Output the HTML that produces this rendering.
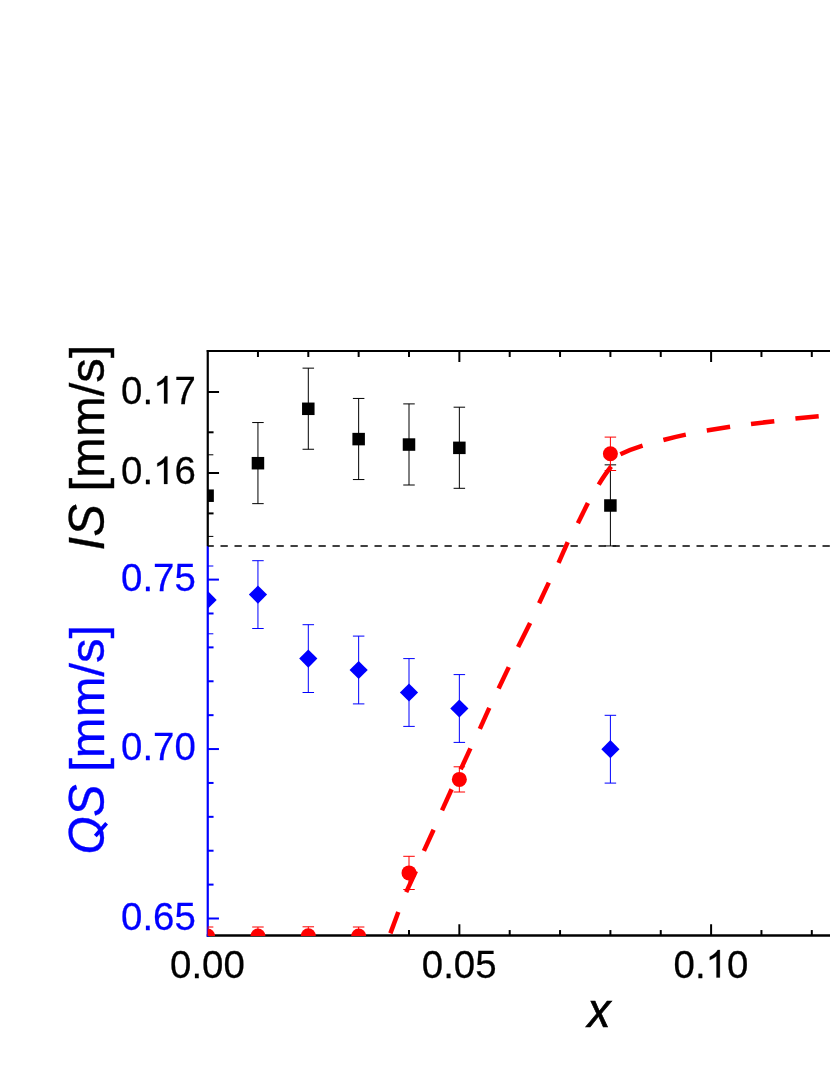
<!DOCTYPE html>
<html><head><meta charset="utf-8"><title>chart</title>
<style>html,body{margin:0;padding:0;background:#fff;}body{width:830px;height:1075px;overflow:hidden;}svg{display:block;}text{font-family:"Liberation Sans",sans-serif;}</style></head><body>
<svg width="830" height="1075" viewBox="0 0 830 1075" style="will-change:transform">
<rect x="0" y="0" width="830" height="1075" fill="#fff"/>
<defs><clipPath id="cp"><rect x="207.75" y="351.0" width="627.25" height="585.0"/></clipPath></defs>
<g>
<line x1="257.95" y1="351.0" x2="257.95" y2="357.0" stroke="#000000" stroke-width="2"/>
<line x1="257.95" y1="935.55" x2="257.95" y2="930.05" stroke="#000000" stroke-width="2"/>
<line x1="308.30" y1="351.0" x2="308.30" y2="357.0" stroke="#000000" stroke-width="2"/>
<line x1="308.30" y1="935.55" x2="308.30" y2="930.05" stroke="#000000" stroke-width="2"/>
<line x1="358.65" y1="351.0" x2="358.65" y2="357.0" stroke="#000000" stroke-width="2"/>
<line x1="358.65" y1="935.55" x2="358.65" y2="930.05" stroke="#000000" stroke-width="2"/>
<line x1="409.00" y1="351.0" x2="409.00" y2="357.0" stroke="#000000" stroke-width="2"/>
<line x1="409.00" y1="935.55" x2="409.00" y2="930.05" stroke="#000000" stroke-width="2"/>
<line x1="459.35" y1="351.0" x2="459.35" y2="362.0" stroke="#000000" stroke-width="2"/>
<line x1="459.35" y1="935.55" x2="459.35" y2="924.25" stroke="#000000" stroke-width="2"/>
<line x1="509.70" y1="351.0" x2="509.70" y2="357.0" stroke="#000000" stroke-width="2"/>
<line x1="509.70" y1="935.55" x2="509.70" y2="930.05" stroke="#000000" stroke-width="2"/>
<line x1="560.05" y1="351.0" x2="560.05" y2="357.0" stroke="#000000" stroke-width="2"/>
<line x1="560.05" y1="935.55" x2="560.05" y2="930.05" stroke="#000000" stroke-width="2"/>
<line x1="610.40" y1="351.0" x2="610.40" y2="357.0" stroke="#000000" stroke-width="2"/>
<line x1="610.40" y1="935.55" x2="610.40" y2="930.05" stroke="#000000" stroke-width="2"/>
<line x1="660.75" y1="351.0" x2="660.75" y2="357.0" stroke="#000000" stroke-width="2"/>
<line x1="660.75" y1="935.55" x2="660.75" y2="930.05" stroke="#000000" stroke-width="2"/>
<line x1="711.10" y1="351.0" x2="711.10" y2="362.0" stroke="#000000" stroke-width="2"/>
<line x1="711.10" y1="935.55" x2="711.10" y2="924.25" stroke="#000000" stroke-width="2"/>
<line x1="761.45" y1="351.0" x2="761.45" y2="357.0" stroke="#000000" stroke-width="2"/>
<line x1="761.45" y1="935.55" x2="761.45" y2="930.05" stroke="#000000" stroke-width="2"/>
<line x1="811.80" y1="351.0" x2="811.80" y2="357.0" stroke="#000000" stroke-width="2"/>
<line x1="811.80" y1="935.55" x2="811.80" y2="930.05" stroke="#000000" stroke-width="2"/>
<line x1="207.75" y1="392.0" x2="219.05" y2="392.0" stroke="#000000" stroke-width="2"/>
<line x1="207.75" y1="432.3" x2="213.55" y2="432.3" stroke="#000000" stroke-width="2"/>
<line x1="207.75" y1="473.0" x2="219.05" y2="473.0" stroke="#000000" stroke-width="2"/>
<line x1="207.75" y1="513.4" x2="213.55" y2="513.4" stroke="#000000" stroke-width="2"/>
<line x1="207.75" y1="579.60" x2="218.95" y2="579.60" stroke="#0000ff" stroke-width="2"/>
<line x1="207.75" y1="613.49" x2="213.55" y2="613.49" stroke="#0000ff" stroke-width="2"/>
<line x1="207.75" y1="647.38" x2="213.55" y2="647.38" stroke="#0000ff" stroke-width="2"/>
<line x1="207.75" y1="681.27" x2="213.55" y2="681.27" stroke="#0000ff" stroke-width="2"/>
<line x1="207.75" y1="715.16" x2="213.55" y2="715.16" stroke="#0000ff" stroke-width="2"/>
<line x1="207.75" y1="749.05" x2="218.95" y2="749.05" stroke="#0000ff" stroke-width="2"/>
<line x1="207.75" y1="782.94" x2="213.55" y2="782.94" stroke="#0000ff" stroke-width="2"/>
<line x1="207.75" y1="816.83" x2="213.55" y2="816.83" stroke="#0000ff" stroke-width="2"/>
<line x1="207.75" y1="850.72" x2="213.55" y2="850.72" stroke="#0000ff" stroke-width="2"/>
<line x1="207.75" y1="884.61" x2="213.55" y2="884.61" stroke="#0000ff" stroke-width="2"/>
<line x1="207.75" y1="918.50" x2="218.95" y2="918.50" stroke="#0000ff" stroke-width="2"/>
</g>
<g>
<line x1="206.75" y1="351.0" x2="830" y2="351.0" stroke="#000000" stroke-width="2"/>
<line x1="206.75" y1="935.55" x2="830" y2="935.55" stroke="#000000" stroke-width="2.6"/>
<line x1="207.75" y1="350.0" x2="207.75" y2="546.0" stroke="#000000" stroke-width="2.2"/>
<line x1="207.75" y1="546.0" x2="207.75" y2="936.8499999999999" stroke="#0000ff" stroke-width="2.2"/>
</g>
<g clip-path="url(#cp)">
<line x1="206.5" y1="545.9" x2="830" y2="545.9" stroke="#000" stroke-width="1.5" stroke-dasharray="7.3 6.7"/>
<path d="M207.60 454.80V536.40M201.85 454.80H213.35M201.85 536.40H213.35" stroke="#000000" stroke-width="1.0" fill="none"/>
<path d="M257.95 422.55V503.65M252.20 422.55H263.70M252.20 503.65H263.70" stroke="#000000" stroke-width="1.0" fill="none"/>
<path d="M308.30 368.15V449.25M302.55 368.15H314.05M302.55 449.25H314.05" stroke="#000000" stroke-width="1.0" fill="none"/>
<path d="M358.65 398.45V479.55M352.90 398.45H364.40M352.90 479.55H364.40" stroke="#000000" stroke-width="1.0" fill="none"/>
<path d="M409.00 403.90V485.00M403.25 403.90H414.75M403.25 485.00H414.75" stroke="#000000" stroke-width="1.0" fill="none"/>
<path d="M459.35 407.20V488.30M453.60 407.20H465.10M453.60 488.30H465.10" stroke="#000000" stroke-width="1.0" fill="none"/>
<path d="M610.40 464.85V545.95M604.65 464.85H616.15M604.65 545.95H616.15" stroke="#000000" stroke-width="1.0" fill="none"/>
<rect x="201.35" y="489.45" width="12.5" height="12.5" fill="#000000"/>
<rect x="251.70" y="456.95" width="12.5" height="12.5" fill="#000000"/>
<rect x="302.05" y="402.55" width="12.5" height="12.5" fill="#000000"/>
<rect x="352.40" y="432.85" width="12.5" height="12.5" fill="#000000"/>
<rect x="402.75" y="438.30" width="12.5" height="12.5" fill="#000000"/>
<rect x="453.10" y="441.60" width="12.5" height="12.5" fill="#000000"/>
<rect x="604.15" y="499.25" width="12.5" height="12.5" fill="#000000"/>
<path d="M207.60 566.00V633.80M201.85 566.00H213.35M201.85 633.80H213.35" stroke="#0000ff" stroke-width="1.0" fill="none"/>
<path d="M257.95 560.70V628.50M252.20 560.70H263.70M252.20 628.50H263.70" stroke="#0000ff" stroke-width="1.0" fill="none"/>
<path d="M308.30 624.70V692.50M302.55 624.70H314.05M302.55 692.50H314.05" stroke="#0000ff" stroke-width="1.0" fill="none"/>
<path d="M358.65 636.10V703.90M352.90 636.10H364.40M352.90 703.90H364.40" stroke="#0000ff" stroke-width="1.0" fill="none"/>
<path d="M409.00 658.60V726.40M403.25 658.60H414.75M403.25 726.40H414.75" stroke="#0000ff" stroke-width="1.0" fill="none"/>
<path d="M459.35 674.60V742.40M453.60 674.60H465.10M453.60 742.40H465.10" stroke="#0000ff" stroke-width="1.0" fill="none"/>
<path d="M610.40 715.30V783.10M604.65 715.30H616.15M604.65 783.10H616.15" stroke="#0000ff" stroke-width="1.0" fill="none"/>
<path d="M198.50 599.90L207.60 590.80L216.70 599.90L207.60 609.00Z" fill="#0000ff"/>
<path d="M248.85 594.60L257.95 585.50L267.05 594.60L257.95 603.70Z" fill="#0000ff"/>
<path d="M299.20 658.60L308.30 649.50L317.40 658.60L308.30 667.70Z" fill="#0000ff"/>
<path d="M349.55 670.00L358.65 660.90L367.75 670.00L358.65 679.10Z" fill="#0000ff"/>
<path d="M399.90 692.50L409.00 683.40L418.10 692.50L409.00 701.60Z" fill="#0000ff"/>
<path d="M450.25 708.50L459.35 699.40L468.45 708.50L459.35 717.60Z" fill="#0000ff"/>
<path d="M601.30 749.20L610.40 740.10L619.50 749.20L610.40 758.30Z" fill="#0000ff"/>
<line x1="390.40" y1="933.40" x2="398.3" y2="912.0" stroke="#ff0000" stroke-width="4.5"/>
<line x1="406.22" y1="892.12" x2="415.9" y2="871.1" stroke="#ff0000" stroke-width="4.5"/>
<line x1="423.93" y1="850.82" x2="433.6" y2="829.7" stroke="#ff0000" stroke-width="4.5"/>
<line x1="442.03" y1="810.32" x2="451.6" y2="789.3" stroke="#ff0000" stroke-width="4.5"/>
<line x1="460.72" y1="769.42" x2="470.4" y2="748.4" stroke="#ff0000" stroke-width="4.5"/>
<line x1="479.83" y1="728.82" x2="489.3" y2="707.8" stroke="#ff0000" stroke-width="4.5"/>
<line x1="498.61" y1="688.51" x2="508.8" y2="667.1" stroke="#ff0000" stroke-width="4.5"/>
<line x1="518.10" y1="647.10" x2="530.1" y2="623.1" stroke="#ff0000" stroke-width="4.5"/>
<line x1="539.12" y1="603.32" x2="548.8" y2="582.6" stroke="#ff0000" stroke-width="4.5"/>
<line x1="558.54" y1="562.82" x2="567.7" y2="542.1" stroke="#ff0000" stroke-width="4.5"/>
<line x1="577.90" y1="523.21" x2="587.9" y2="503.0" stroke="#ff0000" stroke-width="4.5"/>
<path d="M598.7 484.6Q605.3 473.7 611.2 466.5" stroke="#ff0000" stroke-width="4.5" fill="none"/>
<path d="M620.4 454.3Q631 449.3 642.6 445.7" stroke="#ff0000" stroke-width="4.5" fill="none"/>
<path d="M663.4 440.0Q674.5 437.0 685.8 434.6" stroke="#ff0000" stroke-width="4.5" fill="none"/>
<path d="M706.8 430.5L730.1 426.8" stroke="#ff0000" stroke-width="4.5" fill="none"/>
<path d="M751.0 423.9L774.3 421.2" stroke="#ff0000" stroke-width="4.5" fill="none"/>
<path d="M795.4 418.4L818.7 416.2" stroke="#ff0000" stroke-width="4.5" fill="none"/>
<path d="M207.60 927.00V945.00M201.85 927.00H213.35M201.85 945.00H213.35" stroke="#ff0000" stroke-width="1.0" fill="none"/>
<path d="M257.95 927.00V945.00M252.20 927.00H263.70M252.20 945.00H263.70" stroke="#ff0000" stroke-width="1.0" fill="none"/>
<path d="M308.30 926.80V944.80M302.55 926.80H314.05M302.55 944.80H314.05" stroke="#ff0000" stroke-width="1.0" fill="none"/>
<path d="M358.65 927.00V945.00M352.90 927.00H364.40M352.90 945.00H364.40" stroke="#ff0000" stroke-width="1.0" fill="none"/>
<path d="M409.00 856.30V889.50M403.25 856.30H414.75M403.25 889.50H414.75" stroke="#ff0000" stroke-width="1.0" fill="none"/>
<path d="M459.35 766.80V792.00M453.60 766.80H465.10M453.60 792.00H465.10" stroke="#ff0000" stroke-width="1.0" fill="none"/>
<path d="M610.40 437.10V470.50M604.65 437.10H616.15M604.65 470.50H616.15" stroke="#ff0000" stroke-width="1.0" fill="none"/>
<circle cx="207.60" cy="936.00" r="7.5" fill="#ff0000"/>
<circle cx="257.95" cy="936.00" r="7.5" fill="#ff0000"/>
<circle cx="308.30" cy="935.80" r="7.5" fill="#ff0000"/>
<circle cx="358.65" cy="936.00" r="7.5" fill="#ff0000"/>
<circle cx="409.00" cy="872.90" r="7.5" fill="#ff0000"/>
<circle cx="459.35" cy="779.40" r="7.5" fill="#ff0000"/>
<circle cx="610.40" cy="453.80" r="7.5" fill="#ff0000"/>
</g>
<g>
<text transform="translate(170.04 977.5) scale(1 1.03)" font-size="38.4" fill="#000000" stroke="#000000" stroke-width="0.25">0.00</text>
<text transform="translate(421.79 977.5) scale(1 1.03)" font-size="38.4" fill="#000000" stroke="#000000" stroke-width="0.25">0.05</text>
<text transform="translate(673.54 977.5) scale(1 1.03)" font-size="38.4" fill="#000000" stroke="#000000" stroke-width="0.25">0.</text>
<path transform="translate(705.56 977.5) scale(0.018750 -0.018750)" d="M763 0H583V1147Q518 1085 412.5 1023Q307 961 223 930V1104Q374 1175 487 1276Q600 1377 647 1472H763Z" fill="#000000" stroke="#000000" stroke-width="13.3"/>
<text transform="translate(726.91 977.5) scale(1 1.03)" font-size="38.4" fill="#000000" stroke="#000000" stroke-width="0.25">0</text>
<text transform="translate(121.07 403.5) scale(1 1.03)" font-size="38.4" fill="#000000" stroke="#000000" stroke-width="0.25">0.</text>
<path transform="translate(153.10 403.5) scale(0.018750 -0.018750)" d="M763 0H583V1147Q518 1085 412.5 1023Q307 961 223 930V1104Q374 1175 487 1276Q600 1377 647 1472H763Z" fill="#000000" stroke="#000000" stroke-width="13.3"/>
<text transform="translate(174.45 403.5) scale(1 1.03)" font-size="38.4" fill="#000000" stroke="#000000" stroke-width="0.25">7</text>
<text transform="translate(121.07 484.0) scale(1 1.03)" font-size="38.4" fill="#000000" stroke="#000000" stroke-width="0.25">0.</text>
<path transform="translate(153.10 484.0) scale(0.018750 -0.018750)" d="M763 0H583V1147Q518 1085 412.5 1023Q307 961 223 930V1104Q374 1175 487 1276Q600 1377 647 1472H763Z" fill="#000000" stroke="#000000" stroke-width="13.3"/>
<text transform="translate(174.45 484.0) scale(1 1.03)" font-size="38.4" fill="#000000" stroke="#000000" stroke-width="0.25">6</text>
<text transform="translate(121.07 591.1) scale(1 1.03)" font-size="38.4" fill="#0000ff" stroke="#0000ff" stroke-width="0.25">0.75</text>
<text transform="translate(121.07 760.2) scale(1 1.03)" font-size="38.4" fill="#0000ff" stroke="#0000ff" stroke-width="0.25">0.70</text>
<text transform="translate(121.07 930.0) scale(1 1.03)" font-size="38.4" fill="#0000ff" stroke="#0000ff" stroke-width="0.25">0.65</text>
<g transform="translate(104 448) rotate(-90)" font-size="49" fill="#000000" stroke="#000000" stroke-width="0.4">
<text transform="translate(-102.46 0) scale(1 1.015)" font-style="italic" stroke-width="0.3">IS</text>
<text x="-43.54" y="0">[mm/s]</text>
</g>
<g transform="translate(104 740.5) rotate(-90)" font-size="49" fill="#0000ff" stroke="#0000ff" stroke-width="0.4">
<text transform="translate(-114.31 0) scale(1 1.03)" font-style="italic" stroke-width="0.3">O</text>
<text transform="translate(-76.59 0) scale(1 1.015)" font-style="italic" stroke-width="0.3">S</text>
<text x="-31.29" y="0">[mm/s]</text>
</g>
<line x1="95.3" y1="836.0" x2="106.6" y2="823.3" stroke="#0000ff" stroke-width="3.8"/>
<text transform="translate(599.0 1026.8) scale(0.965 1)" font-size="47.6" fill="#000000" stroke="#000000" stroke-width="0.7" text-anchor="middle" font-style="italic">x</text>
</g>
</svg></body></html>
